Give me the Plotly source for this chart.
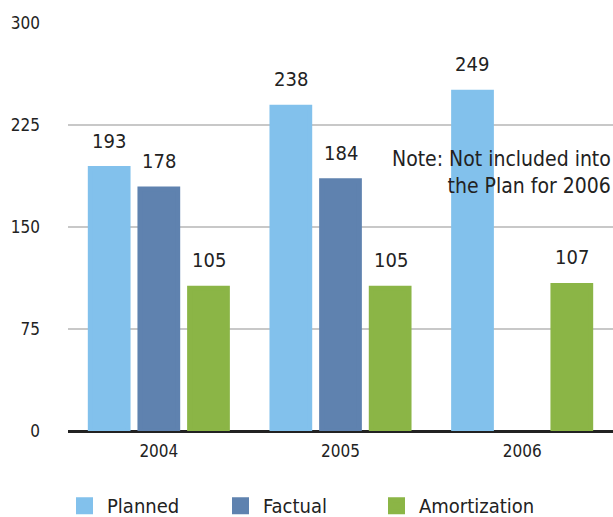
import plotly.graph_objects as go

years = ["2004", "2005", "2006"]
planned = [193, 238, 249]
factual = [178, 184, None]
amortization = [105, 105, 107]
series_names = ["Planned", "Factual", "Amortization"]
colors = ["#82C1EC", "#5F82AF", "#8BB546"]
y_ticks = [0, 75, 150, 225, 300]
note_lines = ["Note: Not included into", "the Plan for 2006"]

FONT = "DejaVu Sans Condensed, Roboto, sans-serif"
TEXT = "#222222"

fig = go.Figure()
for name, vals, col in zip(series_names, [planned, factual, amortization], colors):
    # outline in the fill colour also enlarges the legend swatch
    fig.add_trace(go.Bar(x=years, y=vals, name=name,
                         marker=dict(color=col, line=dict(width=5, color=col))))

# value labels above each bar (x given as category index)
for k, vals in enumerate([planned, factual, amortization]):
    for i, v in enumerate(vals):
        if v is None:
            continue
        fig.add_annotation(
            x=i, y=v, xref="x", yref="y", text=str(v), showarrow=False,
            xshift=(k - 1) * 50, yshift=28, font=dict(family=FONT, size=20, color=TEXT),
        )

fig.add_annotation(
    x=1, y=190, xref="paper", yref="y", xanchor="right", yanchor="middle",
    text="<br>".join(note_lines), showarrow=False, align="right",
    font=dict(family=FONT, size=21, color=TEXT),
)

fig.update_layout(
    width=613, height=517,
    margin=dict(l=68, r=0, t=23, b=86, autoexpand=False),
    paper_bgcolor="white", plot_bgcolor="white",
    barmode="group", bargap=0.18, bargroupgap=0.24,
    font=dict(family=FONT, color=TEXT),
    showlegend=True,
    legend=dict(orientation="h", x=0, xanchor="left", indentation=-6,
                yref="container", y=0.022, yanchor="middle",
                font=dict(family=FONT, size=20, color=TEXT),
                itemwidth=35, entrywidth=112, entrywidthmode="pixels"),
    xaxis=dict(type="category", range=[-0.5, 2.5], showgrid=False,
               tickfont=dict(family=FONT, size=17, color=TEXT),
               ticks="", showline=False, ticklabelstandoff=8),
    yaxis=dict(range=[0, 300], tickvals=y_ticks, showgrid=True, gridcolor="#C8C8C8",
               gridwidth=2, zeroline=True, zerolinecolor="#222222", zerolinewidth=3,
               tickfont=dict(family=FONT, size=17, color=TEXT), ticklabelstandoff=27,
               showline=False),
)

fig.write_html("out.html")
